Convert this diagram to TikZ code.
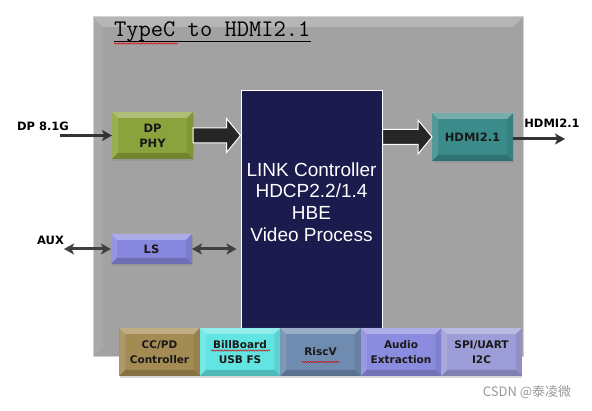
\documentclass[tikz,border=0pt]{standalone}
\usepackage{fontspec}
\setmainfont{Liberation Sans}
\newfontfamily\tagfont{DejaVu Sans}
\newfontfamily\cjkfont{Noto Sans CJK SC}
\usetikzlibrary{positioning,calc,arrows.meta,shadows,decorations.pathmorphing}

\definecolor{panelgray}{HTML}{A2A2A2}
\definecolor{phygreen}{HTML}{8BA33C}
\definecolor{linknavy}{HTML}{1C1B4E}
\definecolor{hdmiteal}{HTML}{3B8B8A}
\definecolor{lsblue}{HTML}{8787DE}
\definecolor{ccbrown}{HTML}{A48B53}
\definecolor{billcyan}{HTML}{62E4E2}
\definecolor{riscblue}{HTML}{6F8CB0}
\definecolor{audioblue}{HTML}{8B8BE0}
\definecolor{spiblue}{HTML}{9D9DD8}
\definecolor{arrowdark}{HTML}{262626}

\tikzset{
  bevel/.style={path picture={
      \path (path picture bounding box.north west) coordinate (pnw)
            (path picture bounding box.south east) coordinate (pse);
      \fill[white,opacity=.30] (pnw) -- (pnw -| pse) -- ([xshift=-#1,yshift=-#1]pnw -| pse)
        -- ([xshift=#1,yshift=-#1]pnw) -- cycle;
      \fill[black,opacity=.18] (pse) -- (pse -| pnw) -- ([xshift=#1,yshift=#1]pse -| pnw)
        -- ([xshift=-#1,yshift=#1]pse) -- cycle;
      \fill[white,opacity=.12] (pnw) -- ([xshift=#1,yshift=-#1]pnw)
        -- ([xshift=#1,yshift=#1]pse -| pnw) -- (pse -| pnw) -- cycle;
      \fill[black,opacity=.08] (pse) -- ([xshift=-#1,yshift=#1]pse)
        -- ([xshift=-#1,yshift=-#1]pnw -| pse) -- (pnw -| pse) -- cycle;}},
  bevel/.default=6pt,
  topshine/.style={path picture={
      \path (path picture bounding box.north west) coordinate (pnw)
            (path picture bounding box.south east) coordinate (pse);
      \fill[white,opacity=.22] (pnw) -- (pnw -| pse) -- ([xshift=-#1,yshift=-#1]pnw -| pse)
        -- ([xshift=#1,yshift=-#1]pnw) -- cycle;
      \fill[white,opacity=.08] (pnw) -- ([xshift=#1,yshift=-#1]pnw)
        -- ([xshift=#1,yshift=#1]pse -| pnw) -- (pse -| pnw) -- cycle;}},
  box/.style={bevel, minimum width=81pt, minimum height=47pt, inner sep=1pt, outer sep=0pt,
    align=center, text=black!90, font=\tagfont\bfseries\fontsize{11.5}{15}\selectfont,
    drop shadow={shadow xshift=.5pt, shadow yshift=-2pt, opacity=.3}},
  subbox/.style={box, minimum width=80.5pt, minimum height=48pt,
    font=\tagfont\bfseries\fontsize{10.5}{14.5}\selectfont},
  tagtext/.style={font=\tagfont\bfseries\fontsize{11.5}{13}\selectfont, text=black, inner sep=0pt},
  fatarrow/.style={fill=arrowdark, draw=white, line width=1pt, line join=miter},
  thinarrow/.style={draw=black!80, line width=3pt, -{Stealth[length=10pt,width=11pt,inset=2.5pt]}},
  dblarrow/.style={draw=black!75, line width=3pt,
    {Stealth[length=10pt,width=11pt,inset=2.5pt]}-{Stealth[length=10pt,width=11pt,inset=2.5pt]}},
  squiggle/.style={draw=red!85!black, line width=.5pt, decorate,
    decoration={snake, amplitude=.7pt, segment length=2.6pt}}
}

% block arrow between two points on one level
\newcommand\fatarrow[2]{%
  \path[fatarrow] let \p1=#1, \p2=#2 in
    (\x1,\y1+7.5pt) -- (\x2-14pt,\y1+7.5pt) -- (\x2-14pt,\y1+17pt) -- (\x2,\y1)
    -- (\x2-14pt,\y1-17pt) -- (\x2-14pt,\y1-7.5pt) -- (\x1,\y1-7.5pt) -- cycle;}

\begin{document}
\begin{tikzpicture}[x=1pt,y=-1pt]
  \useasboundingbox[fill=white] (0,0) rectangle (592,411);

  % chip outline
  \node[topshine=10pt, fill=panelgray, draw=gray!35, line width=1pt,
        minimum width=430pt, minimum height=340pt] (panel) at (308,187) {};
  \node[font=\ttfamily\fontsize{23.8}{24}\selectfont, anchor=base west, inner sep=0pt] (title)
    at (114,37) {TypeC to HDMI2.1};
  \draw[line width=1.2pt] ([yshift=-4.5pt]title.base west) -- ([yshift=-4.5pt]title.base east);
  \draw[squiggle] (114,43.5) -- (178,43.5);

  % core and front end
  \node[fill=linknavy, draw=white, line width=1pt, minimum width=141pt, minimum height=239pt]
    (link) at (311.5,210.5) {};
  \node[text=white, align=center, font=\fontsize{19}{21.8}\selectfont] (linklabel)
    at ([yshift=8.5pt]link.center) {LINK Controller\\HDCP2.2/1.4\\HBE\\Video Process};
  \node[box, fill=phygreen] (phy) at (152.5,135.5) {DP\\PHY};
  \node[box, fill=hdmiteal, minimum height=48pt] (hdmi) at (472.5,137) {HDMI2.1};
  \node[box, fill=lsblue, minimum height=30pt] (ls) at (151.5,249) {LS};

  \fatarrow{(phy.east)}{(link.west |- phy.east)}
  \fatarrow{(link.east |- hdmi.west)}{(hdmi.west)}

  % external signals
  \coordinate (dpin) at (60,135.5);
  \coordinate (auxin) at (64,249);
  \coordinate (hdmiout) at (565,139);
  \draw[thinarrow] (dpin) -- (phy.west);
  \draw[thinarrow] (hdmi.east |- hdmiout) -- (hdmiout);
  \draw[dblarrow] (auxin) -- (ls.west);
  \draw[dblarrow, shorten >=4pt] (ls.east) -- (link.west |- ls.east);
  \node[tagtext] (dplabel) at (43,126) {DP 8.1G};
  \node[tagtext] (auxlabel) at (50.5,240) {AUX};
  \node[tagtext] (hdmilabel) at (552,123) {HDMI2.1};

  % peripheral blocks
  \node[subbox, fill=ccbrown] (ccpd) at (159.5,352) {CC/PD\\Controller};
  \node[subbox, fill=billcyan, right=0pt of ccpd] (bill) {BillBoard\\USB FS};
  \node[subbox, fill=riscblue, right=0pt of bill] (risc) {RiscV};
  \node[subbox, fill=audioblue, right=0pt of risc] (audio) {Audio\\Extraction};
  \node[subbox, fill=spiblue, right=0pt of audio] (spi) {SPI/UART\\I2C};
  \draw[squiggle] (211,350.5) -- (270,350.5);
  \draw[squiggle] (302,362) -- (340,362);

  \node[font=\cjkfont\fontsize{13}{13}\selectfont, text=black!40] (mark) at (527,392) {CSDN @泰凌微};
\end{tikzpicture}
\end{document}
